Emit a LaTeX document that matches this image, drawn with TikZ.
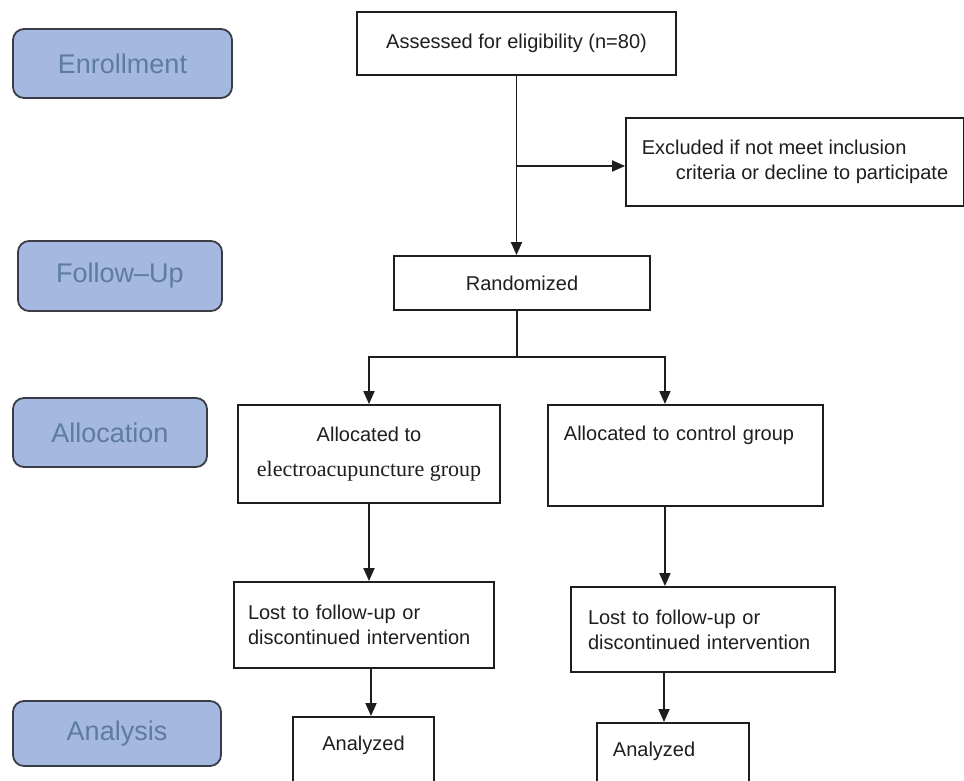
\documentclass[tikz,border=0pt]{standalone}
\usepackage{fontspec}
\setmainfont{Liberation Sans}
\newfontfamily\timesfont{Liberation Serif}
\usetikzlibrary{arrows.meta}
\definecolor{stagefill}{RGB}{165,184,223}
\definecolor{stagetext}{RGB}{94,124,160}
\definecolor{stageline}{RGB}{58,61,70}
\definecolor{inkline}{RGB}{30,30,30}
\tikzset{
  stage/.style={draw=stageline, line width=1.8pt, fill=stagefill, rounded corners=11pt,
    text=stagetext, font=\fontsize{27}{30}\selectfont, inner sep=0pt},
  flowbox/.style={draw=inkline, line width=1.9pt, fill=white, text=inkline,
    font=\fontsize{20}{25}\selectfont, inner sep=0pt},
  flow/.style={draw=inkline, line width=1.9pt, -{Triangle[length=13pt,width=11pt]}},
  link/.style={draw=inkline, line width=1.9pt}
}

\begin{document}
\begin{tikzpicture}[x=1pt,y=-1pt]
  \useasboundingbox (0,0) rectangle (964,780);
  \clip (0,0) rectangle (964,780);

  % Stage labels down the left side.
  \node[stage, minimum width=219pt, minimum height=69pt] (enrol) at (122.5,63.5) {Enrollment};
  \node[stage, minimum width=204pt, minimum height=70pt] (follow) at (120,276) {Follow–Up};
  \node[stage, minimum width=194pt, minimum height=69pt] (alloc) at (110,432.5) {Allocation};
  \node[stage, minimum width=208pt, minimum height=65pt] (analysis) at (117,733.5) {Analysis};

  % Screening and randomisation.
  \node[flowbox, minimum width=319pt, minimum height=63pt] (assess) at (516.5,43.5)
    {Assessed for eligibility (n=80)};
  \node[flowbox, minimum width=338pt, minimum height=88pt, align=left] (excl) at (795,162)
    {Excluded if not meet inclusion\\\hspace*{34pt}criteria or decline to participate};
  \node[flowbox, minimum width=256pt, minimum height=54pt] (rand) at (522,283) {Randomized};

  % Two arms.
  \node[flowbox, minimum width=262pt, minimum height=98pt, align=center] (electro) at (369,454)
    {Allocated to\\[10pt]{\timesfont\fontsize{22}{25}\selectfont electroacupuncture group}};
  \node[flowbox, anchor=north west, inner xsep=16pt, inner ysep=21pt, text width=243pt,
    align=left, text height=15pt, text depth=44pt] (control) at (547,404)
    {Allocated to control group};
  \node[flowbox, minimum height=86pt, inner xsep=14pt, text width=232pt, align=left] (lostL)
    at (364,625) {Lost to follow-up or\\discontinued intervention};
  \node[flowbox, minimum height=85pt, inner xsep=17pt, text width=230pt, align=left] (lostR)
    at (703,629.5) {Lost to follow-up or\\discontinued intervention};
  \node[flowbox, anchor=north, minimum width=141pt, inner ysep=19pt, text height=15pt,
    text depth=80pt] (anaL) at (363.5,716) {Analyzed};
  \node[flowbox, anchor=north west, inner xsep=16pt, inner ysep=19pt, text width=120pt,
    align=left, text height=15pt, text depth=80pt] (anaR) at (596,722) {Analyzed};

  % Connectors.
  \coordinate (split) at (517,357);
  \draw[flow] (assess.south) -- (assess.south |- rand.north);
  \draw[flow] (assess.south |- excl.west) ++(0,4) -- ([yshift=-4pt]excl.west);
  \draw[link] ([xshift=-5pt]rand.south) -- (split);
  \draw[flow] (split) -| (electro.north);
  \draw[flow] (split) -| ([xshift=-20.5pt]control.north);
  \draw[flow] (electro.south) -- (electro.south |- lostL.north);
  \draw[flow] ([xshift=-20.5pt]control.south) -- ([xshift=-20.5pt]control.south |- lostR.north);
  \draw[flow] ([xshift=7pt]lostL.south) -- ([xshift=7pt]lostL.south |- anaL.north);
  \draw[flow] ([xshift=-39pt]lostR.south) -- ([xshift=-39pt]lostR.south |- anaR.north);
\end{tikzpicture}
\end{document}
